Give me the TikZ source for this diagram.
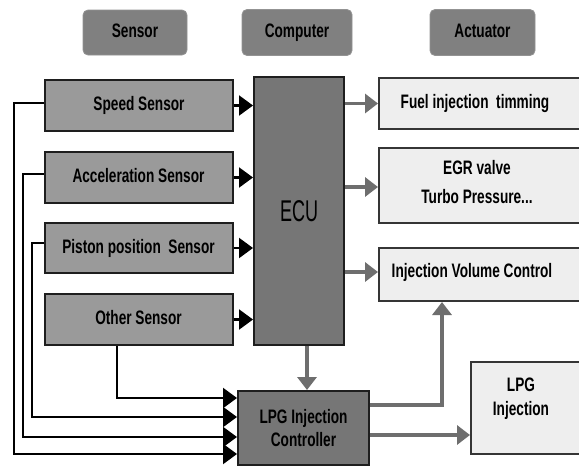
\documentclass[tikz,border=0pt]{standalone}
\usepackage{fontspec}
\setmainfont[FakeStretch=0.70]{Liberation Sans}
\newfontfamily\ecufont[FakeStretch=0.6]{Liberation Sans}
\usetikzlibrary{arrows.meta}
\definecolor{hdr}{HTML}{808080}
\definecolor{sens}{HTML}{9A9A9A}
\definecolor{ecuc}{HTML}{767676}
\definecolor{act}{HTML}{EEEEEE}
\definecolor{edge}{HTML}{1E1E1E}
\definecolor{garr}{HTML}{6E6E6E}
\tikzset{
  txt/.style={font=\bfseries\fontsize{19.5}{22}\selectfont, text height=14pt, text depth=4pt},
  hdrbox/.style={fill=hdr, rounded corners=5pt, draw=hdr!85!white, line width=0.8pt, inner sep=0pt, txt},
  sensbox/.style={fill=sens, draw=edge, line width=2pt, inner sep=0pt, minimum width=188pt, minimum height=51pt, txt},
  darkbox/.style={fill=ecuc, draw=edge, line width=2pt, inner sep=0pt},
  actbox/.style={fill=act, draw=edge!90!white, line width=2pt, inner sep=0pt},
  lbl/.style={inner sep=0pt, align=center, font=\bfseries\fontsize{19.5}{23}\selectfont},
  blk/.style={draw=black, line width=2.2pt, -{Triangle[length=14pt,width=20pt]}},
  gry/.style={draw=garr, line width=3.8pt, -{Triangle[length=13pt,width=19pt]}},
}
\begin{document}
\begin{tikzpicture}[x=1pt,y=-1pt]
\clip (0,0) rectangle (579,467);
\fill[white] (0,0) rectangle (579,467);
% headers
\node[hdrbox, minimum width=104pt, minimum height=45pt] (hS) at (135,32.5) {Sensor};
\node[hdrbox, minimum width=110pt, minimum height=46pt] (hC) at (297,32.5) {Computer};
\node[hdrbox, minimum width=105pt, minimum height=46pt] (hA) at (482.5,32.5) {Actuator};
% sensors
\node[sensbox] (speed) at (139,105.5) {Speed Sensor};
\node[sensbox] (accel) at (138.5,177.5) {Acceleration Sensor};
\node[sensbox, minimum height=50pt] (piston) at (138.5,248) {Piston position~~Sensor};
\node[sensbox] (other) at (138.5,319.5) {Other Sensor};
% ECU
\node[darkbox, minimum width=90pt, minimum height=268pt, font=\ecufont\fontsize{30}{32}\selectfont] (ecu) at (299,211) {ECU};
% actuators
\node[actbox, minimum width=211pt, minimum height=51pt] (fuel) at (484.5,103.5) {};
\node[lbl] (fuelt) at (475,103) {Fuel injection~~timming};
\node[actbox, minimum width=211pt, minimum height=75pt] (egr) at (484.5,185.5) {};
\node[lbl, font=\bfseries\fontsize{19.5}{29}\selectfont] (egrt) at (477,182) {EGR valve\\Turbo Pressure...};
\node[actbox, minimum width=211pt, minimum height=53pt] (ivc) at (484.5,274.5) {};
\node[lbl] (ivct) at (472,272) {Injection Volume Control};
\node[actbox, minimum width=119pt, minimum height=92pt] (lpgi) at (530.5,408) {};
\node[lbl, font=\bfseries\fontsize{19.5}{24}\selectfont] (lpgit) at (521,399) {LPG\\Injection};
% LPG controller
\node[darkbox, minimum width=131pt, minimum height=74pt, font=\bfseries\fontsize{19.5}{23}\selectfont, align=center] (lpgc) at (303.5,428) {LPG Injection\\Controller};
% sensor -> ECU
\draw[blk] (speed.east) -- (ecu.west |- speed.east);
\draw[blk] (accel.east) -- (ecu.west |- accel.east);
\draw[blk] (piston.east) -- (ecu.west |- piston.east);
\draw[blk] (other.east) -- (ecu.west |- other.east);
% ECU -> actuators
\draw[gry] (ecu.east |- fuel.west) -- (fuel.west);
\draw[gry] (ecu.east |- egrt) ++(0,5) coordinate (e2) -- (fuel.west |- e2);
\draw[gry] (ecu.east |- ivct) -- (ivc.west |- ivct);
\draw[gry] (ecu.south -| 307,0) coordinate (e3) -- (lpgc.north -| e3);
% sensors -> LPG controller
\coordinate (c1) at (14,454);
\coordinate (c2) at (23,437);
\coordinate (c3) at (32,417);
\coordinate (c4) at (117,398);
\draw[blk] (speed.west |- 0,103) -| (c1) -- (lpgc.west |- c1);
\draw[blk] (accel.west |- 0,174) -| (c2) -- (lpgc.west |- c2);
\draw[blk] (piston.west |- 0,243) -| (c3) -- (lpgc.west |- c3);
\draw[blk] (other.south -| c4) -- (c4) -- (lpgc.west |- c4);
% LPG controller -> actuators
\coordinate (c5) at (442,405);
\draw[gry] (lpgc.east |- c5) -- (c5) -- (ivc.south -| c5);
\coordinate (c6) at (400,435);
\draw[gry] (lpgc.east |- c6) -- (lpgi.west |- c6);
\end{tikzpicture}
\end{document}
